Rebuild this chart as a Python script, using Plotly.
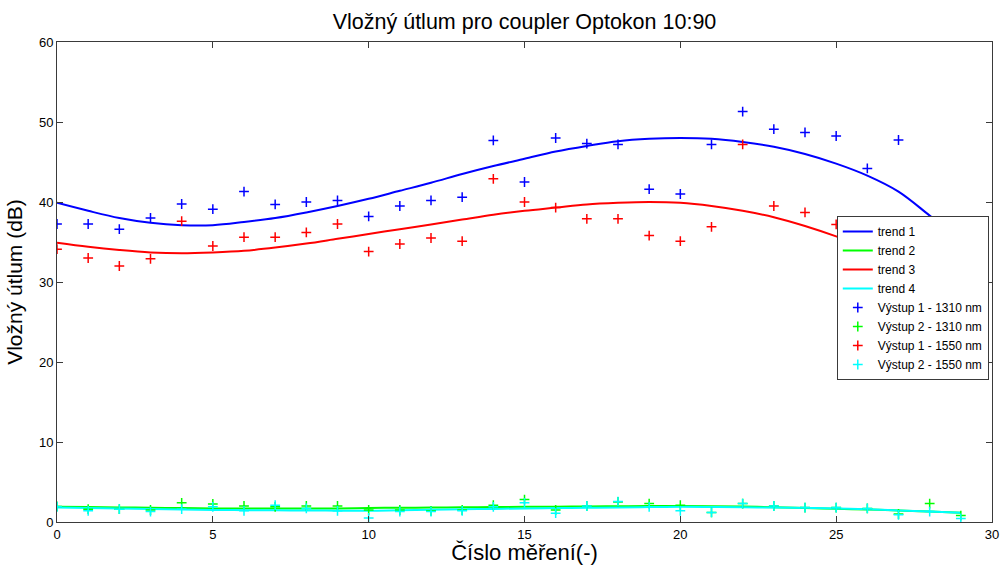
import plotly.graph_objects as go

x = list(range(30))

# measured points
v1_1310 = [37.25, 37.25, 36.6, 38.0, 39.75, 39.1, 41.3, 39.7, 40.0, 40.2,
           38.2, 39.5, 40.2, 40.6, 47.7, 42.5, 48.0, 47.3, 47.2, 41.6,
           41.0, 47.2, 51.3, 49.1, 48.7, 48.25, 44.2, 47.75, 33.0, 31.0]
v2_1310 = [1.95, 1.6, 1.6, 1.5, 2.4, 2.25, 2.0, 1.9, 2.0, 2.0,
           1.5, 1.5, 1.4, 1.5, 2.1, 2.8, 1.5, 2.0, 2.5, 2.3,
           2.1, 1.2, 2.3, 2.0, 1.8, 1.8, 1.7, 1.0, 2.3, 0.8]
v1_1550 = [34.1, 33.0, 32.0, 32.9, 37.6, 34.5, 35.6, 35.6, 36.2, 37.25,
           33.8, 34.75, 35.5, 35.1, 42.9, 40.0, 39.3, 37.9, 37.9, 35.8,
           35.1, 36.9, 47.2, 39.5, 38.7, 37.2, 33.0, 31.5, 29.0, 21.5]
v2_1550 = [1.9, 1.4, 1.6, 1.3, 1.6, 1.9, 1.4, 2.1, 1.7, 1.4,
           0.5, 1.3, 1.3, 1.4, 1.9, 2.4, 1.1, 2.0, 2.55, 1.9,
           1.4, 1.2, 2.3, 2.0, 1.8, 1.8, 1.7, 0.9, 1.3, 0.45]

# trend curves
trend1 = [39.9, 38.9, 38.0, 37.4, 37.1, 37.1, 37.5, 38.0, 38.7, 39.5,
          40.4, 41.4, 42.4, 43.5, 44.5, 45.4, 46.3, 47.0, 47.6, 47.9,
          48.0, 47.9, 47.5, 46.9, 46.0, 44.8, 43.3, 41.3, 38.3, 35.2]
trend2 = [1.9, 1.86, 1.82, 1.78, 1.74, 1.7, 1.7, 1.7, 1.7, 1.7,
          1.75, 1.78, 1.81, 1.84, 1.87, 1.9, 1.92, 1.95, 1.97, 1.99,
          2.0, 1.98, 1.93, 1.85, 1.75, 1.65, 1.55, 1.45, 1.3, 1.15]
trend3 = [34.9, 34.4, 34.0, 33.7, 33.6, 33.7, 33.9, 34.3, 34.8, 35.4,
          36.0, 36.6, 37.2, 37.8, 38.4, 38.9, 39.3, 39.7, 39.9, 40.0,
          39.9, 39.5, 38.9, 38.1, 37.0, 35.7, 34.2, 32.4, 30.3, 28.0]
trend4 = [1.8, 1.74, 1.68, 1.62, 1.56, 1.5, 1.48, 1.46, 1.44, 1.42,
          1.4, 1.46, 1.52, 1.58, 1.64, 1.7, 1.74, 1.78, 1.82, 1.86,
          1.9, 1.88, 1.85, 1.8, 1.75, 1.7, 1.6, 1.45, 1.3, 1.15]

BLUE, GREEN, RED, CYAN = "#0000FF", "#00FF00", "#FF0000", "#00FFFF"

fig = go.Figure()
for name, y, c in [("trend 1", trend1, BLUE), ("trend 2", trend2, GREEN),
                   ("trend 3", trend3, RED), ("trend 4", trend4, CYAN)]:
    fig.add_trace(go.Scatter(x=x, y=y, mode="lines", name=name,
                             line=dict(color=c, width=2, shape="spline")))
for name, y, c in [("Výstup 1 - 1310 nm", v1_1310, BLUE),
                   ("Výstup 2 - 1310 nm", v2_1310, GREEN),
                   ("Výstup 1 - 1550 nm", v1_1550, RED),
                   ("Výstup 2 - 1550 nm", v2_1550, CYAN)]:
    fig.add_trace(go.Scatter(x=x, y=y, mode="markers", name=name,
                             marker=dict(symbol="cross-thin", size=7, color=c,
                                         line=dict(width=1.5, color=c))))

axis_common = dict(showline=True, mirror="ticks", linecolor="#3a3a3a", linewidth=1,
                   ticks="inside", ticklen=6, tickcolor="#3a3a3a", showgrid=False,
                   zeroline=False, automargin=False,
                   tickfont=dict(size=13, color="black"))
fig.update_layout(
    width=1005, height=565,
    margin=dict(l=57, r=13, t=42, b=43),
    paper_bgcolor="white", plot_bgcolor="white",
    font=dict(family="Liberation Sans, Arial, sans-serif", color="black"),
    title=dict(text="Vložný útlum pro coupler Optokon 10:90", xref="paper", x=0.5,
               xanchor="center", y=0.962, yanchor="middle", font=dict(size=21.5)),
    xaxis=dict(range=[0, 30], tickvals=[0, 5, 10, 15, 20, 25, 30],
               title=dict(text="Číslo měření(-)", font=dict(size=22), standoff=3),
               **axis_common),
    yaxis=dict(range=[0, 60], tickvals=[0, 10, 20, 30, 40, 50, 60],
               title=dict(text="Vložný útlum (dB)", font=dict(size=21), standoff=10),
               **axis_common),
    legend=dict(x=0.834, y=0.6375, xanchor="left", yanchor="top",
                bgcolor="white", bordercolor="#3a3a3a", borderwidth=1,
                font=dict(size=12), tracegroupgap=0, itemwidth=30),
    showlegend=True,
)
fig.write_html("out.html")
